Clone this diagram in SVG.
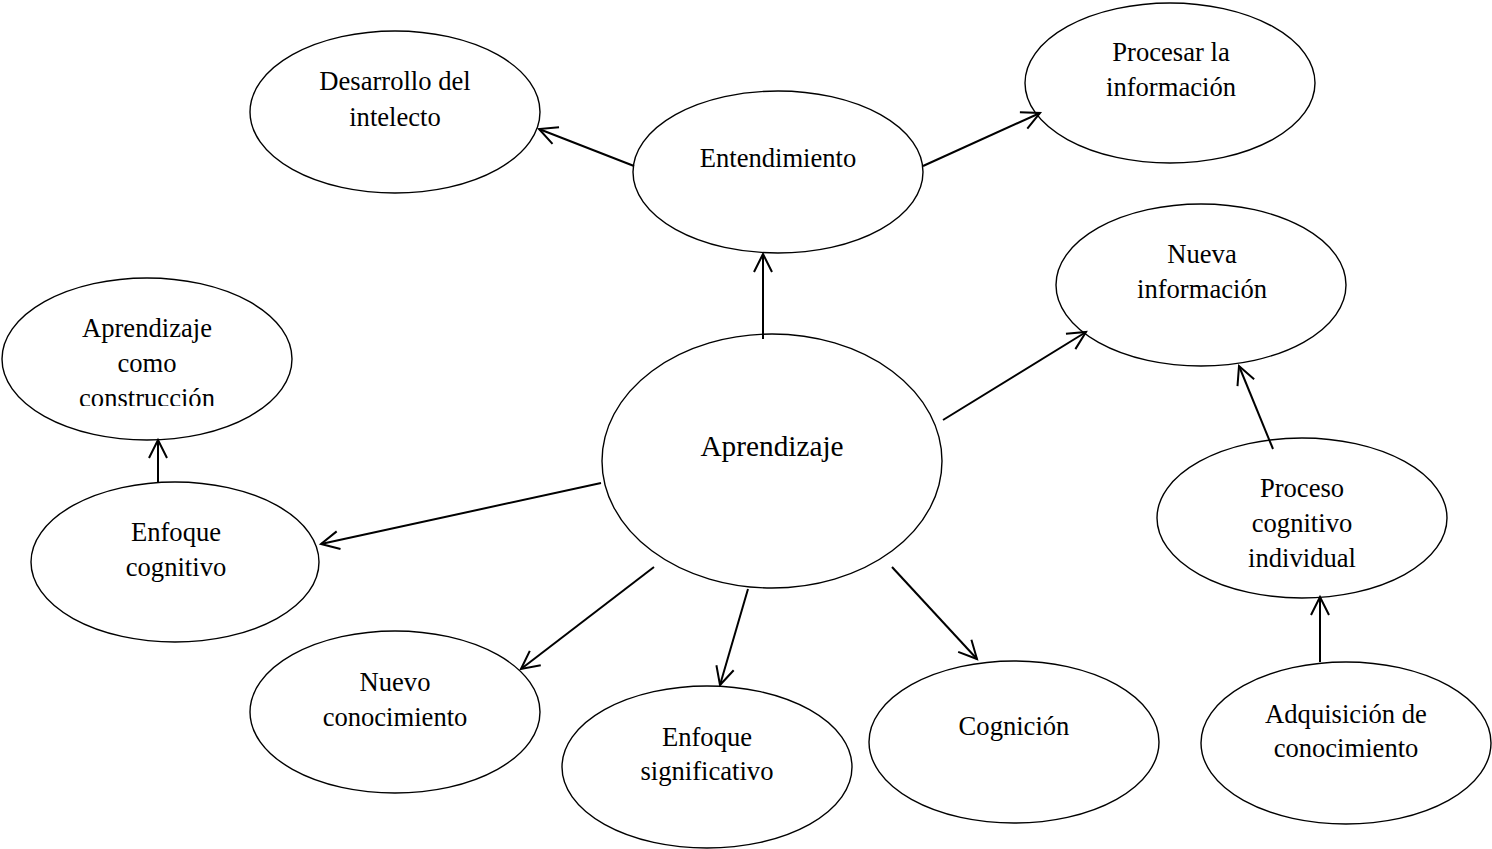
<svg xmlns="http://www.w3.org/2000/svg" width="1492" height="849" viewBox="0 0 1492 849">
<defs>
<style>
.node ellipse{fill:#fff;stroke:#000;stroke-width:1.4}
.node text{font-family:'Liberation Serif','Times New Roman',Times,serif;font-size:26.6px;fill:#000;text-anchor:middle}
.node text.big{font-size:29.3px}
.conn line{stroke:#000;stroke-width:2;fill:none}
</style>
<marker id="arr" markerUnits="userSpaceOnUse" viewBox="-22 -12 24 24" refX="0" refY="0" markerWidth="24" markerHeight="24" orient="auto" overflow="visible">
<path d="M-18,-9 L0,0 L-18,9" fill="none" stroke="#000" stroke-width="2"/>
</marker>
<clipPath id="clipComo"><rect x="0" y="270" width="300" height="136"/></clipPath>
</defs>
<rect width="1492" height="849" fill="#fff"/>
<g id="n-desarrollo" class="node"><ellipse cx="395" cy="112" rx="145" ry="81"/><text x="395" y="90">Desarrollo del</text><text x="395" y="126">intelecto</text></g>
<g id="n-entendimiento" class="node"><ellipse cx="778" cy="172" rx="145" ry="81"/><text x="778" y="167">Entendimiento</text></g>
<g id="n-procesar" class="node"><ellipse cx="1170" cy="83" rx="145" ry="80"/><text x="1171" y="61">Procesar la</text><text x="1171" y="96">información</text></g>
<g id="n-nueva" class="node"><ellipse cx="1201" cy="285" rx="145" ry="81"/><text x="1202" y="263">Nueva</text><text x="1202" y="298">información</text></g>
<g id="n-como" class="node"><ellipse cx="147" cy="359" rx="145" ry="81"/><g clip-path="url(#clipComo)"><text x="147" y="337">Aprendizaje</text><text x="147" y="372">como</text><text x="147" y="407">construcción</text></g></g>
<g id="n-enfcog" class="node"><ellipse cx="175" cy="562" rx="144" ry="80"/><text x="176" y="541">Enfoque</text><text x="176" y="576">cognitivo</text></g>
<g id="n-aprendizaje" class="node"><ellipse cx="772" cy="461" rx="170" ry="127"/><text class="big" x="772" y="456">Aprendizaje</text></g>
<g id="n-proceso" class="node"><ellipse cx="1302" cy="518" rx="145" ry="80"/><text x="1302" y="497">Proceso</text><text x="1302" y="532">cognitivo</text><text x="1302" y="567">individual</text></g>
<g id="n-adquisicion" class="node"><ellipse cx="1346" cy="743" rx="145" ry="81"/><text x="1346" y="723">Adquisición de</text><text x="1346" y="757">conocimiento</text></g>
<g id="n-nuevo" class="node"><ellipse cx="395" cy="712" rx="145" ry="81"/><text x="395" y="691">Nuevo</text><text x="395" y="726">conocimiento</text></g>
<g id="n-enfsig" class="node"><ellipse cx="707" cy="767" rx="145" ry="81"/><text x="707" y="746">Enfoque</text><text x="707" y="780">significativo</text></g>
<g id="n-cognicion" class="node"><ellipse cx="1014" cy="742" rx="145" ry="81"/><text x="1014" y="735">Cognición</text></g>
<g id="connectors" class="conn">
<line x1="763" y1="339" x2="763" y2="254" marker-end="url(#arr)"/>
<line x1="634" y1="166" x2="539" y2="129" marker-end="url(#arr)"/>
<line x1="923" y1="166" x2="1040" y2="113" marker-end="url(#arr)"/>
<line x1="943" y1="420" x2="1086" y2="332" marker-end="url(#arr)"/>
<line x1="1273" y1="449" x2="1239" y2="366" marker-end="url(#arr)"/>
<line x1="1320" y1="662" x2="1320" y2="597" marker-end="url(#arr)"/>
<line x1="158" y1="482" x2="158" y2="440" marker-end="url(#arr)"/>
<line x1="601" y1="483" x2="321" y2="544" marker-end="url(#arr)"/>
<line x1="654" y1="567" x2="521" y2="669" marker-end="url(#arr)"/>
<line x1="748" y1="589" x2="720" y2="685" marker-end="url(#arr)"/>
<line x1="892" y1="567" x2="977" y2="659" marker-end="url(#arr)"/>
</g>
</svg>
